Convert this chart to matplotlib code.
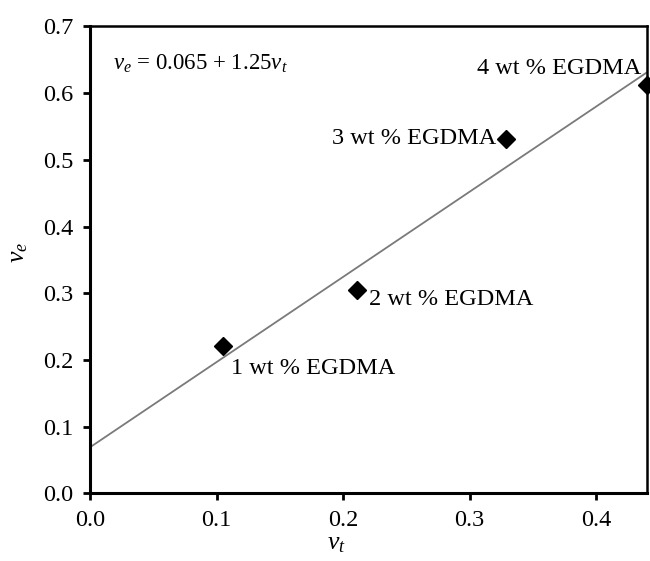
import matplotlib
matplotlib.use("Agg")
import matplotlib.pyplot as plt

# data
vt = [0.105, 0.211, 0.329, 0.440]
ve = [0.221, 0.305, 0.532, 0.612]
labels = ["1 wt % EGDMA", "2 wt % EGDMA", "3 wt % EGDMA", "4 wt % EGDMA"]
fit_x = [0.0, 0.44]
fit_y = [0.069, 0.631]
x_ticks = [0.0, 0.1, 0.2, 0.3, 0.4]
y_ticks = [0.0, 0.1, 0.2, 0.3, 0.4, 0.5, 0.6, 0.7]

plt.rcParams["font.family"] = "Liberation Serif"
plt.rcParams["mathtext.fontset"] = "custom"
plt.rcParams["mathtext.rm"] = "Liberation Serif"
plt.rcParams["mathtext.it"] = "Liberation Serif:italic"

FS = 17.5

fig = plt.figure(figsize=(6.5, 5.61), dpi=100)
ax = fig.add_axes([0.1385, 0.1207, 0.8565, 0.8321])

ax.plot(fit_x, fit_y, color="#7a7a7a", linewidth=1.3, zorder=2)
ax.plot(vt, ve, linestyle="none", marker="D", markersize=9, color="black",
        zorder=3, clip_on=False)

# label placement (offsets in points)
offsets = [(6, -16), (9, -7), (-7, 0), (-4, 12)]
aligns = [("left", "center"), ("left", "center"), ("right", "center"), ("right", "center")]
for x, y, lab, off, (ha, va) in zip(vt, ve, labels, offsets, aligns):
    ax.annotate(lab, (x, y), xytext=off, textcoords="offset points",
                ha=ha, va=va, fontsize=FS)

ax.text(0.041, 0.921, r"$v_e$ = 0.065 + 1.25$v_t$", transform=ax.transAxes,
        fontsize=FS - 1, ha="left", va="center")

ax.set_xlim(0, 0.44)
ax.set_ylim(0, 0.7)
ax.set_xticks(x_ticks)
ax.set_yticks(y_ticks)
ax.set_xticklabels([f"{t:.1f}" for t in x_ticks])
ax.set_yticklabels([f"{t:.1f}" for t in y_ticks])
ax.tick_params(direction="out", length=5, width=2, labelsize=FS, pad=7)

for side in ["left", "bottom"]:
    ax.spines[side].set_linewidth(2.2)
for side in ["top", "right"]:
    ax.spines[side].set_linewidth(1.8)

ax.set_xlabel(r"$v_t$", fontsize=FS + 1)
ax.set_ylabel(r"$v_e$", fontsize=FS + 1)
ax.xaxis.set_label_coords(0.443, -0.085)
ax.yaxis.set_label_coords(-0.108, 0.515)

fig.savefig("out.png", dpi=100)
